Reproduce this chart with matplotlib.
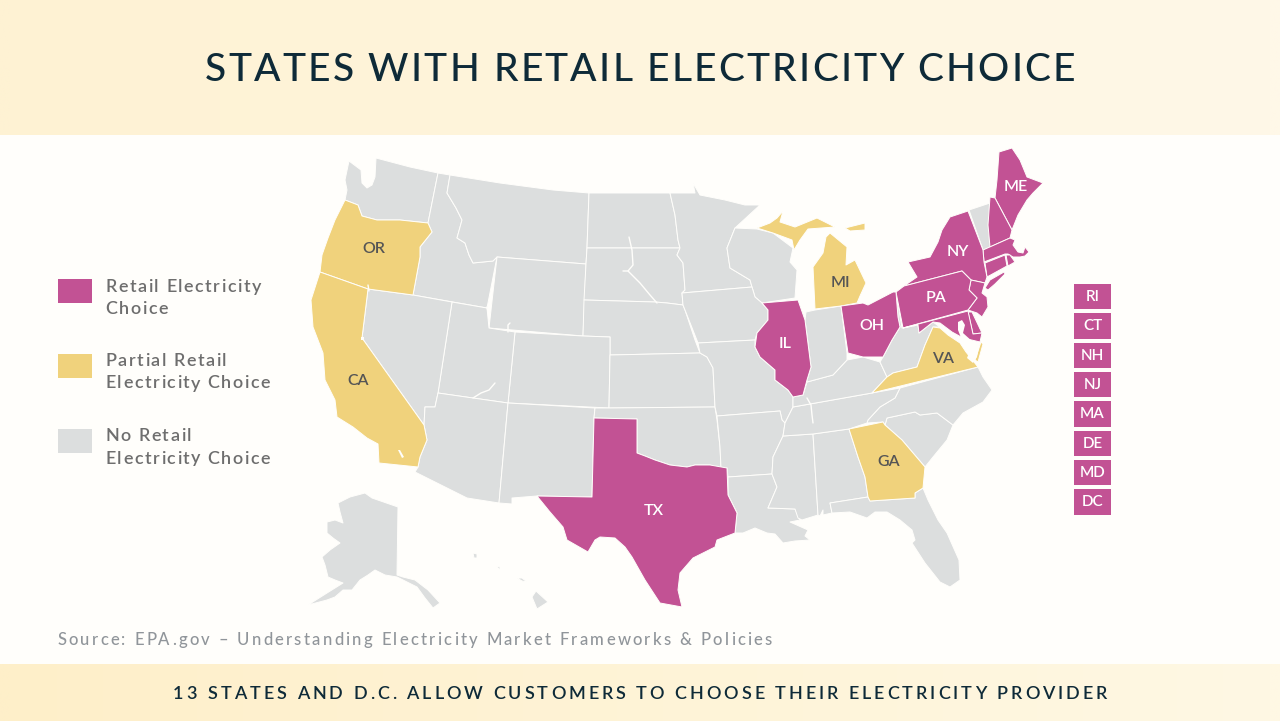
import numpy as np
import matplotlib
matplotlib.use("Agg")
import matplotlib.pyplot as plt
from matplotlib.patches import Polygon, Rectangle
from matplotlib.text import Text
from matplotlib.font_manager import FontProperties
from matplotlib.transforms import Bbox

# ---- chart text ----
TITLE = "STATES WITH RETAIL ELECTRICITY CHOICE"
FOOTER = "13 STATES AND D.C. ALLOW CUSTOMERS TO CHOOSE THEIR ELECTRICITY PROVIDER"
SOURCE = "Source: EPA.gov \u2013 Understanding Electricity Market Frameworks & Policies"
LEGEND_LABELS = ["Retail Electricity\nChoice", "Partial Retail\nElectricity Choice", "No Retail\nElectricity Choice"]
SMALL_STATE_BOXES = ["RI", "CT", "NH", "NJ", "MA", "DE", "MD", "DC"]
STATE_LABELS = {"OR": (374, 249), "CA": (358, 381), "MI": (840, 283), "VA": (943, 359), "GA": (889, 462),
                "ME": (1016, 187), "NY": (958, 252), "PA": (936, 298), "OH": (872, 326), "IL": (785, 344), "TX": (654, 511)}

# ---- state outlines (map coordinates) ----
WA = [(349,161),(361,170),(362,183),(367,188),(372,185),(375,177),(376,158),(410,167),(438,173),(428,223),(400,220),(377,220),(362,216),(358,205),(345,200),(347,190),(345,180)]
OR = [(345,200),(358,205),(362,216),(377,220),(400,220),(428,223),(432,232),(420,247),(420,257),(413,295),(368,289),(320,272),(322,255),(328,238),(335,220)]
CA = [(320,272),(368,289),(362,338),(424,425),(427,440),(420,457),(418,467),(379,463),(378,444),(367,438),(353,427),(337,417),(335,400),(325,380),(323,353),(313,327),(311,300)]
ID = [(438,173),(450,175),(447,193),(456,208),(462,220),(457,238),(465,243),(469,255),(473,263),(493,261),(497,257),(487,308),(413,295),(420,257),(420,247),(432,232),(428,223)]
MT = [(450,175),(500,183),(553,190),(589,193),(587,248),(586,264),(497,257),(493,261),(473,263),(469,255),(465,243),(457,238),(462,220),(456,208),(447,193)]
WY = [(497,257),(586,264),(583,336),(489,328)]
ND = [(589,193),(670,193),(675,215),(678,240),(680,248),(587,248)]
SD = [(587,248),(680,248),(677,255),(683,263),(685,290),(682,293),(683,305),(667,303),(655,302),(584,300),(586,264)]
NE = [(584,300),(655,302),(667,303),(683,305),(685,310),(695,340),(700,353),(610,355),(610,337),(583,336)]
CO = [(515,332),(583,336),(610,337),(610,355),(609,408),(508,403)]
KS = [(610,355),(700,353),(707,357),(713,368),(715,407),(609,408)]
UT = [(452,302),(487,308),(489,328),(515,332),(508,403),(438,393)]
NV = [(368,289),(413,295),(452,302),(438,393),(435,407),(425,407),(424,425),(362,338)]
AZ = [(438,393),(508,403),(499,503),(467,498),(415,472),(418,467),(420,457),(427,440),(424,425),(425,407),(435,407)]
NM = [(508,403),(595,408),(594,418),(592,497),(537,496),(512,498),(512,504),(499,503)]
TX = [(594,418),(637,419),(637,453),(645,456),(655,460),(670,465),(687,467),(695,465),(710,465),(727,468),(728,495),(737,513),(735,533),(717,540),(715,547),(693,558),(680,573),(678,590),(682,607),(660,603),(645,580),(632,557),(625,547),(615,538),(600,537),(595,540),(588,552),(567,540),(563,527),(550,512),(537,496),(592,497)]
OK = [(609,408),(715,407),(717,420),(720,447),(721,468),(710,465),(695,465),(687,467),(670,465),(655,460),(637,453),(637,419),(594,418),(595,408)]
MN = [(670,193),(695,193),(693,183),(700,195),(725,200),(745,205),(760,205),(735,228),(727,248),(730,268),(750,280),(752,287),(682,293),(685,290),(683,263),(677,255),(680,248),(678,240),(675,215)]
WI = [(735,228),(757,229),(773,233),(793,248),(790,262),(797,270),(795,298),(762,303),(755,297),(752,287),(750,280),(730,268),(727,248)]
IA = [(682,293),(752,287),(755,297),(762,303),(768,310),(768,320),(757,333),(755,340),(698,343),(685,310),(683,305)]
MO = [(698,343),(755,340),(755,347),(760,357),(775,370),(775,380),(788,390),(793,397),(793,407),(785,423),(782,420),(780,411),(717,416),(715,407),(713,368),(707,357),(700,353)]
AR = [(717,416),(780,411),(782,420),(785,423),(783,436),(773,457),(772,474),(728,477),(727,468),(721,468),(720,447)]
LA = [(728,477),(772,474),(777,487),(768,508),(795,509),(800,520),(790,522),(808,530),(805,536),(810,540),(795,541),(783,543),(775,534),(767,533),(755,528),(743,533),(735,533),(737,513),(728,495)]
MS = [(783,436),(813,434),(818,515),(802,520),(798,518),(795,509),(768,508),(777,487),(772,474),(773,457)]
AL = [(813,434),(849,429),(858,457),(865,477),(868,497),(830,503),(832,513),(823,515),(823,510),(820,516),(818,515)]
GA = [(849,429),(883,422),(885,425),(902,440),(925,467),(923,488),(915,493),(915,498),(870,501),(868,497),(865,477),(858,457)]
FL = [(830,503),(868,497),(870,501),(915,498),(915,493),(923,488),(928,500),(938,520),(947,533),(959,560),(960,580),(950,587),(940,582),(925,563),(912,543),(915,540),(912,530),(900,520),(887,512),(875,512),(867,518),(850,512),(832,513)]
SC = [(885,425),(887,418),(915,412),(920,415),(937,413),(953,425),(947,440),(933,457),(925,467),(902,440)]
NC = [(867,423),(868,420),(880,407),(895,398),(900,388),(978,367),(983,377),(992,390),(983,402),(963,413),(953,425),(937,413),(920,415),(915,412),(887,418),(885,425),(883,422)]
VA = [(872,393),(887,377),(893,373),(917,367),(925,345),(933,327),(940,328),(948,335),(960,343),(966,352),(978,367)]
VA_SHORE = [(981,342),(983,344),(978,362),(975,360)]
TN = [(793,407),(872,393),(900,388),(895,398),(880,407),(868,420),(867,423),(849,429),(813,434),(783,436),(785,423)]
KY = [(793,397),(803,395),(807,382),(833,375),(847,360),(863,357),(880,362),(887,377),(872,393),(793,407)]
IL = [(762,303),(798,300),(805,320),(811,367),(807,380),(803,395),(793,397),(788,390),(775,380),(775,370),(760,357),(755,347),(757,333),(768,320),(768,310)]
IN = [(806,312),(815,310),(841,306),(847,353),(847,360),(833,375),(807,382),(807,380),(811,367),(805,320)]
OH = [(841,306),(863,303),(868,305),(893,292),(896,292),(898,317),(900,327),(892,340),(883,357),(863,357),(848,353)]
WV = [(896,292),(902,328),(918,325),(919,333),(933,322),(940,327),(933,327),(925,345),(917,367),(893,373),(887,377),(880,362),(883,357),(892,340),(900,327),(898,317)]
PA = [(896,292),(904,286),(962,271),(971,280),(969,290),(977,298),(968,310),(903,328)]
NY = [(904,286),(917,277),(908,262),(930,257),(938,242),(942,230),(950,217),(968,211),(983,250),(984,262),(987,277),(985,283),(971,280),(962,271)]
LONG_ISLAND = [(985,288),(990,280),(1004,272),(1005,274),(995,284),(988,290)]
VT = [(969,210),(990,203),(991,247),(983,250)]
NH = [(990,197),(995,198),(1012,230),(1010,238),(990,247),(988,225)]
ME = [(999,152),(1012,148),(1020,160),(1027,177),(1043,183),(1033,193),(1027,200),(1018,215),(1012,230),(995,198),(997,180)]
MA = [(983,250),(1010,238),(1015,240),(1013,245),(1018,252),(1023,253),(1025,247),(1029,252),(1025,256),(1020,257),(1013,257),(1008,254),(1005,254),(984,262)]
CT = [(985,263),(1005,255),(1007,266),(987,277)]
RI = [(1006,255),(1010,255),(1015,262),(1008,266)]
NJ = [(971,280),(985,283),(982,293),(987,297),(988,307),(982,317),(977,313),(968,310),(977,298),(969,290)]
DE = [(968,312),(972,312),(982,333),(973,334)]
MD = [(903,328),(968,311),(973,334),(982,333),(980,342),(963,338),(952,332),(940,323),(933,322),(919,333),(918,325)]
MI_LOWER = [(815,309),(813,267),(823,253),(826,237),(830,233),(847,247),(846,265),(855,260),(866,283),(860,296),(857,303),(841,306)]
MI_UPPER = [(757,228),(770,223),(777,218),(783,211),(780,222),(795,227),(817,218),(835,227),(808,229),(800,240),(794,250),(792,240),(773,233)]
MI_ISLETS = [(845,228),(865,223),(865,230),(850,231)]
AK = [(338,503),(350,497),(365,493),(372,498),(398,507),(397,575),(403,577),(415,580),(428,590),(440,603),(433,608),(425,598),(417,587),(407,582),(397,577),(385,575),(375,570),(368,575),(360,580),(352,590),(343,590),(335,597),(327,600),(308,605),(327,593),(343,583),(335,580),(328,577),(325,565),(322,557),(330,550),(340,543),(333,538),(327,533),(327,522),(335,520),(343,523),(340,512)]
HI = [(532,597),(536,591),(548,602),(537,609)]
HI_MAUI = [(517,578),(522,578),(527,582),(522,581)]
HI_OAHU = [(496,566),(500,567),(500,570)]
HI_KAUAI = [(473,553),(477,554),(477,558),(474,558)]

# ---- water drawn over the land ----
SALTON = [(398,450),(400,450),(404,457),(402,458)]
TAHOE = [(361,337),(364,337),(364,340),(361,340)]
CHESAPEAKE = [(962,320),(965,325),(963,333),(973,342),(980,343),(977,357),(973,363),(967,358),(970,350),(963,343),(958,330),(958,322)]
DELAWARE_BAY = [(977,320),(983,321),(984,329),(980,329)]
MISSOURI_RIVER = ([629,632,633,628,623], [237,250,265,271,271])
MISSOURI_LOWER = ([628,640,650,657], [271,283,295,303])
TENNESSEE_RIVER = ([807,811,812,813], [398,405,415,423])
POWELL = ([473,481,489,495], [398,393,390,383])
FLAMING_GORGE = ([508,508,510], [332,325,323])
SNAKE_MARK = ([368,369], [285,291])
BEAR_MARK = ([487,488], [307,312])

RETAIL = [ME, NH, MA, RI, CT, NY, LONG_ISLAND, NJ, PA, DE, MD, OH, IL, TX]
PARTIAL = [OR, CA, MI_LOWER, MI_UPPER, MI_ISLETS, VA, VA_SHORE, GA]
NO_CHOICE = [WA, ID, MT, WY, ND, SD, NE, CO, KS, UT, NV, AZ, NM, OK, MN, WI, IA, MO, AR, LA, MS, AL,
             FL, SC, NC, TN, KY, IN, WV, VT, AK, HI, HI_MAUI, HI_OAHU, HI_KAUAI]
WATER = [SALTON, TAHOE, CHESAPEAKE, DELAWARE_BAY]
WATER_LINES = [MISSOURI_RIVER, MISSOURI_LOWER, TENNESSEE_RIVER, POWELL, FLAMING_GORGE, SNAKE_MARK, BEAR_MARK]

C_RETAIL = "#C25294"
C_PARTIAL = "#F0D27C"
C_NONE = "#DCDEDE"
C_BG = "#FFFEFB"
C_NAVY = "#0E2A38"
C_TEXT = "#6E6E6E"
C_DARK = "#555555"
FONT = "Lato"


class TrackedText(Text):
    """One text object drawn with letter spacing (the string stays whole)."""

    def __init__(self, x, y, s, fit_width=None, tracking=0.0, line_px=22.5, **kw):
        super().__init__(x, y, s, **kw)
        self.fit_width = fit_width
        self.tracking = tracking
        self.line_px = line_px

    def _track(self, renderer, line):
        if self.fit_width is None:
            return self.tracking
        w = renderer.get_text_width_height_descent(line, self.get_fontproperties(), False)[0]
        return (self.fit_width - w) / max(len(line) - 1, 1)

    def draw(self, renderer):
        x, y = self.get_position()
        fp = self.get_fontproperties()
        for row, line in enumerate(self.get_text().split("\n")):
            tr = self._track(renderer, line)
            for i, ch in enumerate(line):
                if ch == " ":
                    continue
                adv = renderer.get_text_width_height_descent(line[:i + 1], fp, False)[0] \
                    - renderer.get_text_width_height_descent(ch, fp, False)[0]
                t = Text(x + adv + i * tr, y + row * self.line_px, ch, fontproperties=fp,
                         color=self.get_color(), ha="left", va="baseline", transform=self.get_transform())
                t.set_figure(self.get_figure())
                t.draw(renderer)

    def get_window_extent(self, renderer=None, dpi=None):
        bb = super().get_window_extent(renderer, dpi)
        r = renderer or self.get_figure()._get_renderer()
        longest = max(self.get_text().split("\n"), key=len)
        tr = self._track(r, longest)
        return Bbox([[bb.x0, bb.y0], [bb.x1 + tr * (len(longest) - 1), bb.y1]])


fig = plt.figure(figsize=(12.80, 7.21), dpi=100, facecolor=C_BG)
ax = fig.add_axes([0, 0, 1, 1])
ax.set_xlim(0, 1280)
ax.set_ylim(721, 0)
ax.axis("off")


def band(y0, y1, left, right):
    c = np.linspace(matplotlib.colors.to_rgb(left), matplotlib.colors.to_rgb(right), 64)[None, :, :]
    ax.imshow(c, extent=(0, 1280, y1, y0), aspect="auto", interpolation="bilinear", zorder=1)


band(0, 135, "#FEF2D3", "#FFF8E8")
band(664, 721, "#FEEFC9", "#FFF8E4")
ax.set_xlim(0, 1280)
ax.set_ylim(721, 0)

for group, col in ((NO_CHOICE, C_NONE), (PARTIAL, C_PARTIAL), (RETAIL, C_RETAIL)):
    for pts in group:
        ax.add_patch(Polygon(pts, closed=True, facecolor=col, edgecolor=C_BG, lw=0.7, joinstyle="round", zorder=2))
for pts in WATER:
    ax.add_patch(Polygon(pts, closed=True, facecolor=C_BG, edgecolor="none", zorder=3))
for xs, ys in WATER_LINES:
    ax.plot(xs, ys, color=C_BG, lw=1.0, zorder=3, solid_capstyle="round")


def fp(size, weight="medium"):
    return FontProperties(family=FONT, size=size, weight=weight)


ax.add_artist(TrackedText(205, 81, TITLE, fit_width=870, fontproperties=fp(28), color=C_NAVY, va="baseline", transform=ax.transData))
ax.add_artist(TrackedText(173, 699, FOOTER, fit_width=934, fontproperties=fp(13, "semibold"), color=C_NAVY, va="baseline", transform=ax.transData))
ax.add_artist(TrackedText(57, 645, SOURCE, fit_width=715, fontproperties=fp(12, "medium"), color="#90959A", va="baseline", transform=ax.transData))

legend_y = [279, 354, 429]
legend_col = [C_RETAIL, C_PARTIAL, C_NONE]
legend_base = [292, 366, 441]
for y, col, base, lab in zip(legend_y, legend_col, legend_base, LEGEND_LABELS):
    ax.add_patch(Rectangle((57.5, y), 34.8, 24, facecolor=col, edgecolor="none", zorder=2))
    ax.add_artist(TrackedText(105.5, base, lab, tracking=1.5, fontproperties=fp(13, "semibold"), color=C_TEXT, va="baseline", transform=ax.transData))

for i, lab in enumerate(SMALL_STATE_BOXES):
    y = 284 + i * 29.33
    ax.add_patch(Rectangle((1074.3, y), 36.7, 25.3, facecolor=C_RETAIL, edgecolor="none", zorder=2))
    ax.text(1092.6, y + 12.9, lab, fontproperties=fp(11, "semibold"), color="white", ha="center", va="center", zorder=4)

for lab, (x, y) in STATE_LABELS.items():
    col = C_DARK if lab in ("OR", "CA", "MI", "VA", "GA") else "white"
    ax.text(x, y, lab, fontproperties=fp(11.5, "semibold"), color=col, ha="center", va="center", zorder=4)

fig.savefig("out.png", dpi=100, facecolor=C_BG)
